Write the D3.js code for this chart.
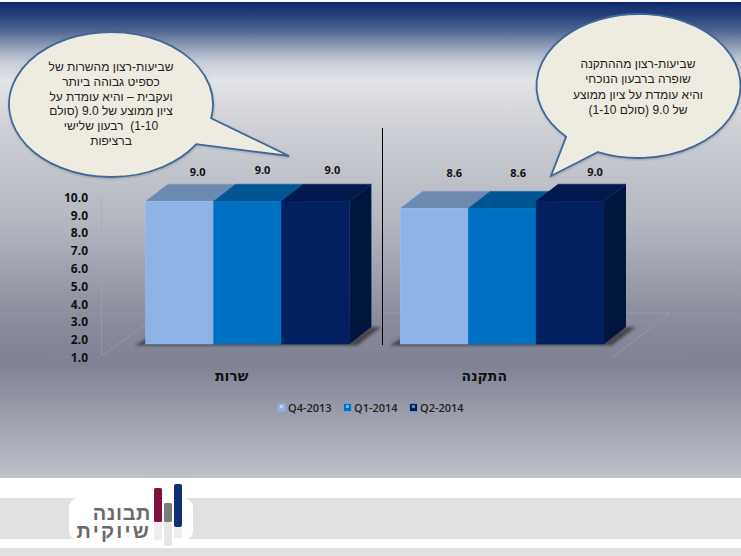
<!DOCTYPE html>
<html lang="he"><head><meta charset="utf-8">
<script src="https://cdnjs.cloudflare.com/ajax/libs/d3/7.8.5/d3.min.js"></script>
<style>html,body{margin:0;padding:0;background:#fff;overflow:hidden}svg{display:block}</style>
</head><body><svg id="c" width="741" height="556"></svg>
<script>
const categories = ["שרות", "התקנה"];
const seriesNames = ["Q4-2013", "Q1-2014", "Q2-2014"];
const q4_2013 = [9.0, 8.6];
const q1_2014 = [9.0, 8.6];
const q2_2014 = [9.0, 9.0];
const seriesValues = [q4_2013, q1_2014, q2_2014];
const tickValues = [1,2,3,4,5,6,7,8,9,10];
const leftNote = ["שביעות-רצון מהשרות של","כספיט גבוהה ביותר","ועקבית – והיא עומדת על","ציון ממוצע של 9.0 (סולם","1-10)\u00A0 רבעון שלישי","ברציפות"];
const rightNote = ["שביעות-רצון מההתקנה","שופרה ברבעון הנוכחי","והיא עומדת על ציון ממוצע","של 9.0 (סולם 1-10)"];
const logoLines = ["תבונה","שיוקית"];

const frontCol = ["#8DB3E6","#0070C0","#002060"];
const topCol = ["#6C89B0","#005592","#001A4E"];
const sideCol = ["#6C89B0","#005592","#00163F"];

const svg = d3.select("#c");
const defs = svg.append("defs");
const bg = defs.append("linearGradient").attr("id","bg").attr("x1",0).attr("x2",0).attr("y1",0).attr("y2",1);
[[0,"#0E2A6C"],[.03,"#26437E"],[.06,"#4F6592"],[.09,"#8B99B3"],[.125,"#C6CBD5"],[.165,"#E2E4E6"],[.2,"#DCDEE1"],[.27,"#CDCFD5"],[.45,"#B6B8C2"],[.68,"#888A9A"],[.76,"#7F8293"],[.86,"#9A9CAA"],[1,"#BEC1CB"]]
  .forEach(s=>bg.append("stop").attr("offset",s[0]).attr("stop-color",s[1]));
const blur = defs.append("filter").attr("id","blur").attr("x","-20%").attr("y","-50%").attr("width","140%").attr("height","200%");
blur.append("feGaussianBlur").attr("stdDeviation",1.6);
const sh = defs.append("filter").attr("id","sh").attr("x","-10%").attr("y","-10%").attr("width","120%").attr("height","120%");
sh.append("feDropShadow").attr("dx",.5).attr("dy",1).attr("stdDeviation",1).attr("flood-color","#000").attr("flood-opacity",.2);

svg.append("rect").attr("width",741).attr("height",556).attr("fill","#fff");
svg.append("rect").attr("y",2).attr("width",741).attr("height",476).attr("fill","url(#bg)");

// footer
svg.append("rect").attr("y",498).attr("width",741).attr("height",41).attr("fill","#E1E1E1");
svg.append("rect").attr("y",548).attr("width",741).attr("height",8).attr("fill","#E1E1E1");

// scales
const groupX = d3.scaleOrdinal().domain(categories).range([145.7,400.3]);
const barW = 67.9;
const y = d3.scaleLinear().domain([1,10]).range([344,183.4]);
const tickY = d3.scaleLinear().domain([1,10]).range([357.5,197.5]);
const dx = 22, dy = -17;

// floor & walls
const g0 = svg.append("g").attr("fill","none").attr("stroke","#A9A99F").attr("stroke-width",.8).attr("opacity",.6);
g0.append("path").attr("d","M101.5,196V356L146,324");
g0.append("path").attr("d","M604,313H670L613,357");
g0.append("path").attr("d","M382,313H401");
g0.append("path").attr("d","M613,357H690M50,357H101").attr("stroke-dasharray","1 3").attr("opacity",.7);

// axis
const axis = d3.axisLeft(tickY).tickValues(tickValues).tickFormat(d3.format(".1f")).tickSize(0).tickPadding(0);
const ag = svg.append("g").attr("transform","translate(88,0)").call(axis);
ag.select(".domain").remove();
ag.selectAll("text").attr("font-family","'Open Sans'").attr("font-weight",700).attr("font-size",12).attr("fill","#111");

// divider
svg.append("line").attr("x1",382.5).attr("x2",382.5).attr("y1",128).attr("y2",345).attr("stroke","#000").attr("stroke-width",1);

// shadows + bars
categories.forEach((cat,ci)=>{
  const x0 = groupX(cat), x1 = x0+3*barW;
  svg.append("path").attr("d",`M${x0-11},345.5L${x0},339H${x1}L${x1+dx},${344+dy}H${x1+dx+10}L${x1+8},345.5Z`)
    .attr("fill","#333").attr("opacity",.75).attr("filter","url(#blur)");
  seriesValues.forEach((vals,si)=>{
    const v = vals[ci], xl = x0+si*barW, xr = xl+barW, yt = y(v), yb = y(1);
    svg.append("path").attr("d",`M${xr},${yb}L${xr+dx},${yb+dy}V${yt+dy}L${xr},${yt}Z`).attr("fill",sideCol[si]);
    svg.append("path").attr("d",`M${xl},${yt}L${xl+dx},${yt+dy}H${xr+dx}L${xr},${yt}Z`).attr("fill",topCol[si])
      .attr("stroke",d3.color(topCol[si]).brighter(.35)).attr("stroke-width",.6);
    svg.append("rect").attr("x",xl).attr("y",yt).attr("width",barW).attr("height",yb-yt).attr("fill",frontCol[si])
      .attr("stroke",d3.color(frontCol[si]).brighter(.25)).attr("stroke-width",.5);
  });
});

// value labels
const nudgeX = [[18,15,17],[20,16,25]];
const nudgeY = [[-30,-32,-32],[-36,-36,-30]];
categories.forEach((cat,ci)=>seriesValues.forEach((vals,si)=>{
  svg.append("text").attr("x",groupX(cat)+(si+.5)*barW+nudgeX[ci][si]).attr("y",y(vals[ci])+nudgeY[ci][si])
    .attr("text-anchor","middle").attr("dominant-baseline","central")
    .attr("font-family","'Open Sans'").attr("font-weight",700).attr("font-size",11).attr("fill","#111")
    .text(d3.format(".1f")(vals[ci]));
}));

// category labels
categories.forEach((cat,ci)=>{
  svg.append("text").attr("x",groupX(cat)+[86,84][ci]).attr("y",381)
    .attr("text-anchor","middle").attr("direction","rtl")
    .attr("font-family","'DejaVu Sans'").attr("font-weight",700).attr("font-size",14).attr("fill","#111").text(cat);
});

// legend
const legX = d3.scaleOrdinal().domain(seriesNames).range([277,343,409]);
seriesNames.forEach((n,i)=>{
  const x = legX(n);
  svg.append("rect").attr("x",x+.5).attr("y",403.5).attr("width",8).attr("height",8).attr("fill",frontCol[i]).attr("stroke","#8FA6C8").attr("stroke-width",.7);
  svg.append("rect").attr("x",x+3).attr("y",405).attr("width",3).attr("height",3).attr("fill","#fff").attr("opacity",.45);
  svg.append("text").attr("x",x+11).attr("y",411.5).attr("font-family","'Open Sans'").attr("font-weight",600).attr("font-size",11).attr("fill","#222").text(n);
});

// callouts
function callout(cx,cy,rx,ry,a,tip,b,lines,firstY,lh,tx,fs){
  const pt = t=>[cx+rx*Math.cos(t),cy+ry*Math.sin(t)];
  const A = pt(a), B = pt(b);
  svg.append("path").attr("d",`M${A}L${tip}L${B}A${rx},${ry} 0 1 1 ${A}Z`)
    .attr("fill","#EEECE1").attr("stroke","#3F6797").attr("stroke-width",1.8).attr("filter","url(#sh)");
  lines.forEach((l,i)=>svg.append("text").attr("x",tx).attr("y",firstY+i*lh).attr("text-anchor","middle")
    .attr("direction","rtl").attr("font-family","'Liberation Sans'").attr("font-size",fs).attr("fill","#222").text(l));
}
callout(111,104.5,102,72.5,.19,[289,156],.58,leftNote,71,14.8,111,12);
callout(638.5,86,102,72,1.98,[551,176],2.36,rightNote,68,15.3,638,12);

// logo
const lg = svg.append("g");
lg.append("rect").attr("x",69).attr("y",498).attr("width",124).attr("height",42).attr("rx",9).attr("fill","#fff");
lg.append("rect").attr("x",154).attr("y",522).attr("width",8).attr("height",18).attr("fill","#EEE");
lg.append("rect").attr("x",164).attr("y",522).attr("width",8).attr("height",24).attr("rx",2).attr("fill","#E6E6E6");
lg.append("rect").attr("x",174).attr("y",527).attr("width",8).attr("height",11).attr("fill","#EEE");
lg.append("rect").attr("x",154).attr("y",488).attr("width",8).attr("height",34).attr("rx",1.5).attr("fill","#7E1140");
lg.append("rect").attr("x",164).attr("y",503).attr("width",8).attr("height",19).attr("rx",1.5).attr("fill","#7B7B7B");
lg.append("rect").attr("x",174).attr("y",484).attr("width",8).attr("height",43).attr("rx",2).attr("fill","#102F78");
logoLines.forEach((l,i)=>lg.append("text").attr("x",151).attr("y",[520,538][i]).attr("text-anchor","start").attr("direction","rtl")
  .attr("letter-spacing",[.6,2.2][i])
  .attr("font-family","'Liberation Sans'").attr("font-weight",700).attr("font-size",20).attr("fill","#6A6A6A").text(l));
</script></body></html>
